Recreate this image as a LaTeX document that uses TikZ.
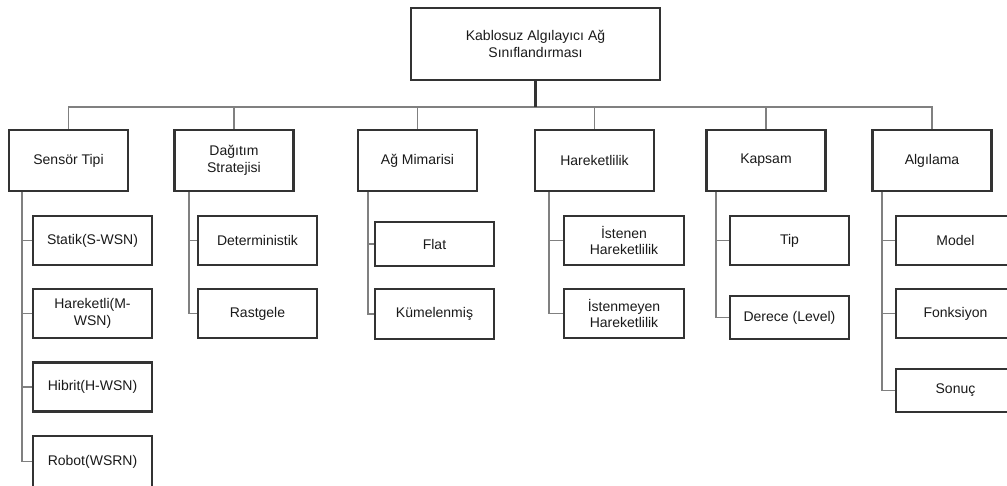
\documentclass[tikz,border=0pt]{standalone}
\usepackage{fontspec}
\setmainfont{Liberation Sans}
\definecolor{boxline}{HTML}{333333}
\definecolor{connline}{HTML}{808080}
\definecolor{txt}{HTML}{1A1A1A}
\tikzset{
  box/.style={draw=boxline, line width=2.2pt, fill=white, align=center, inner sep=2pt,
    text=txt, font=\fontsize{14}{16.5}\selectfont},
  topbox/.style={box, minimum width=249pt, minimum height=72pt},
  catbox/.style={box, minimum width=119pt, minimum height=61pt},
  leafbox/.style={box, minimum width=119pt, minimum height=49pt},
  conn/.style={draw=connline, line width=1.8pt},
  topconn/.style={draw=boxline, line width=2.2pt},
}
\begin{document}
\begin{tikzpicture}[x=1pt,y=-1pt]
\useasboundingbox (0,0) rectangle (1007,486);
\clip (0,0) rectangle (1007,486);

% top
\node[topbox] (top) at (535.5,44) {Kablosuz Algılayıcı Ağ\\Sınıflandırması};
\coordinate (bus) at (535.5,107);

% categories
\node[catbox] (s1) at (68.5,160.5) {Sensör Tipi};
\node[catbox] (s2) at (234,160.5) {Dağıtım\\Stratejisi};
\node[catbox] (s3) at (417.5,160.5) {Ağ Mimarisi};
\node[catbox] (s4) at (594.5,160.5) {Hareketlilik};
\node[catbox] (s5) at (766,160.5) {Kapsam};
\node[catbox] (s6) at (932,160.5) {Algılama};

% leaves: Sensör Tipi
\node[leafbox] (a1) at (92.5,240.5) {Statik(S-WSN)};
\node[leafbox] (a2) at (92.5,313.5) {Hareketli(M-\\WSN)};
\node[leafbox] (a3) at (92.5,387) {Hibrit(H-WSN)};
\node[leafbox, minimum height=51pt] (a4) at (92.5,461.5) {Robot(WSRN)};
% Dağıtım
\node[leafbox] (b1) at (257.5,240.5) {Deterministik};
\node[leafbox] (b2) at (257.5,313.5) {Rastgele};
% Ağ Mimarisi
\node[leafbox, minimum height=44pt] (c1) at (434.5,244) {Flat};
\node[leafbox, minimum height=50pt] (c2) at (434.5,314) {Kümelenmiş};
% Hareketlilik
\node[leafbox, minimum width=120pt] (d1) at (624,240.5) {İstenen\\Hareketlilik};
\node[leafbox, minimum width=120pt] (d2) at (624,313.5) {İstenmeyen\\Hareketlilik};
% Kapsam
\node[leafbox] (e1) at (789.5,240.5) {Tip};
\node[leafbox, minimum height=43pt] (e2) at (789.5,317.5) {Derece (Level)};
% Algılama
\node[leafbox] (f1) at (955.5,240.5) {Model};
\node[leafbox] (f2) at (955.5,313.5) {Fonksiyon};
\node[leafbox, minimum height=43pt] (f3) at (955.5,390.5) {Sonuç};

% bus connectors
\draw[conn] (s1.north) |- (s6.north |- bus) -- (s6.north);
\draw[conn] (s2.north) -- (s2.north |- bus);
\draw[conn] (s3.north) -- (s3.north |- bus);
\draw[conn] (s4.north) -- (s4.north |- bus);
\draw[conn] (s5.north) -- (s5.north |- bus);
\draw[topconn] (top.south) -- (bus);

% trunk coordinates
\coordinate (ta) at (22,192);
\coordinate (tb) at (189,192);
\coordinate (tc) at (368,192);
\coordinate (td) at (549,192);
\coordinate (te) at (716,192);
\coordinate (tf) at (882,192);

\draw[conn] (ta) |- (a4.west);
\foreach \n in {a1,a2,a3} \draw[conn] (ta |- \n.west) -- (\n.west);
\draw[conn] (tb) |- (b2.west);
\draw[conn] (tb |- b1.west) -- (b1.west);
\draw[conn] (tc) |- (c2.west);
\draw[conn] (tc |- c1.west) -- (c1.west);
\draw[conn] (td) |- (d2.west);
\draw[conn] (td |- d1.west) -- (d1.west);
\draw[conn] (te) |- (e2.west);
\draw[conn] (te |- e1.west) -- (e1.west);
\draw[conn] (tf) |- (f3.west);
\foreach \n in {f1,f2} \draw[conn] (tf |- \n.west) -- (\n.west);
\end{tikzpicture}
\end{document}
